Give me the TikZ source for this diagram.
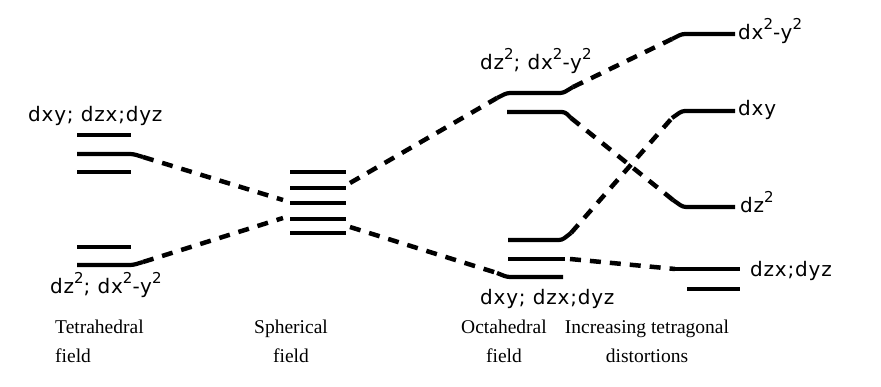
\documentclass[tikz,border=0pt]{standalone}
\usepackage{fontspec}
\setmainfont{Liberation Serif}
\newfontfamily\lvlfont[LetterSpace=4]{DejaVu Sans}
\newcommand\supx[1]{\raisebox{0.5em}{\fontsize{15}{15}\selectfont #1}}
\tikzset{
  level/.style={line width=4.2pt, line join=round, rounded corners=3pt},
  conn/.style={line width=4.5pt, dash pattern=on 11pt off 9pt},
  lbl/.style={font=\lvlfont\fontsize{20}{20}\selectfont, inner sep=0pt},
  captxt/.style={font=\fontsize{19.5}{29}\selectfont, inner sep=0pt, align=center},
}
\begin{document}
\begin{tikzpicture}[x=1pt,y=-1pt]
\useasboundingbox (0,0) rectangle (881,387);
% coordinates
\coordinate (t2r) at (143,157);
\coordinate (t5r) at (143,262);
\coordinate (sul) at (283,200);
\coordinate (sll) at (283,218);
\coordinate (sur) at (350,183);
\coordinate (slr) at (350,227);
\coordinate (o1l) at (497,98);
\coordinate (o1r) at (573,87);
\coordinate (o2r) at (571,118);
\coordinate (o3r) at (571,233);
\coordinate (o4r) at (570,259);
\coordinate (o5l) at (497,273);
\coordinate (r1l) at (672,39);
\coordinate (r2l) at (672,118);
\coordinate (r3l) at (673,200);
\coordinate (r4l) at (675,269);
% tetrahedral
\draw[level] (77,135) -- (131,135);
\draw[level] (77,154) -- (133,154) -- (t2r);
\draw[level] (77,172) -- (131,172);
\draw[level] (77,247) -- (131,247);
\draw[level] (77,265) -- (133,265) -- (t5r);
% spherical
\foreach \y in {172,188,203,219,233} \draw[level] (290,\y) -- (346,\y);
% octahedral
\draw[level] (o1l) -- (507,93) -- (563,93) -- (o1r);
\draw[level] (507,112) -- (565,112) -- (o2r);
\draw[level] (508,240) -- (562,240) -- (o3r);
\draw[level] (508,259) -- (565,259);
\draw[level] (o5l) -- (507,277) -- (563,277);
% tetragonal
\draw[level] (r1l) -- (682,34) -- (735,34);
\draw[level] (r2l) -- (682,111) -- (735,111);
\draw[level] (r3l) -- (683,207) -- (735,207);
\draw[level] (r4l) -- (740,269);
\draw[level] (687,289) -- (740,289);
% connectors
\draw[conn] (t2r) -- (sul);
\draw[conn] (t5r) -- (sll);
\draw[conn] (sur) -- (o1l);
\draw[conn] (slr) -- (o5l);
\draw[conn] (o1r) -- (r1l);
\draw[conn] (o2r) -- (r3l);
\draw[conn] (o3r) -- (r2l);
\draw[conn] (o4r) -- (r4l);
% labels
\node[lbl, anchor=base west] (lt1) at (28,122) {dxy; dzx;dyz};
\node[lbl, anchor=base west] (lt2) at (50,294) {dz\supx{2}; dx\supx{2}-y\supx{2}};
\node[lbl, anchor=base west] (lo1) at (480,70) {dz\supx{2}; dx\supx{2}-y\supx{2}};
\node[lbl, anchor=base west] (lo2) at (480,305) {dxy; dzx;dyz};
\node[lbl, anchor=base west] (lr1) at (738,40) {dx\supx{2}-y\supx{2}};
\node[lbl, anchor=base west] (lr2) at (738,116) {dxy};
\node[lbl, anchor=base west] (lr3) at (740,213) {dz\supx{2}};
\node[lbl, anchor=base west] (lr4) at (750,277) {dzx;dyz};
% captions
\node[captxt, anchor=north west, align=left] (c1) at (55,320) {Tetrahedral\\field};
\node[captxt, anchor=north] (c2) at (291,320) {Spherical\\field};
\node[captxt, anchor=north] (c3) at (504,320) {Octahedral\\field};
\node[captxt, anchor=north] (c4) at (647,320) {Increasing tetragonal\\distortions};
\end{tikzpicture}
\end{document}
